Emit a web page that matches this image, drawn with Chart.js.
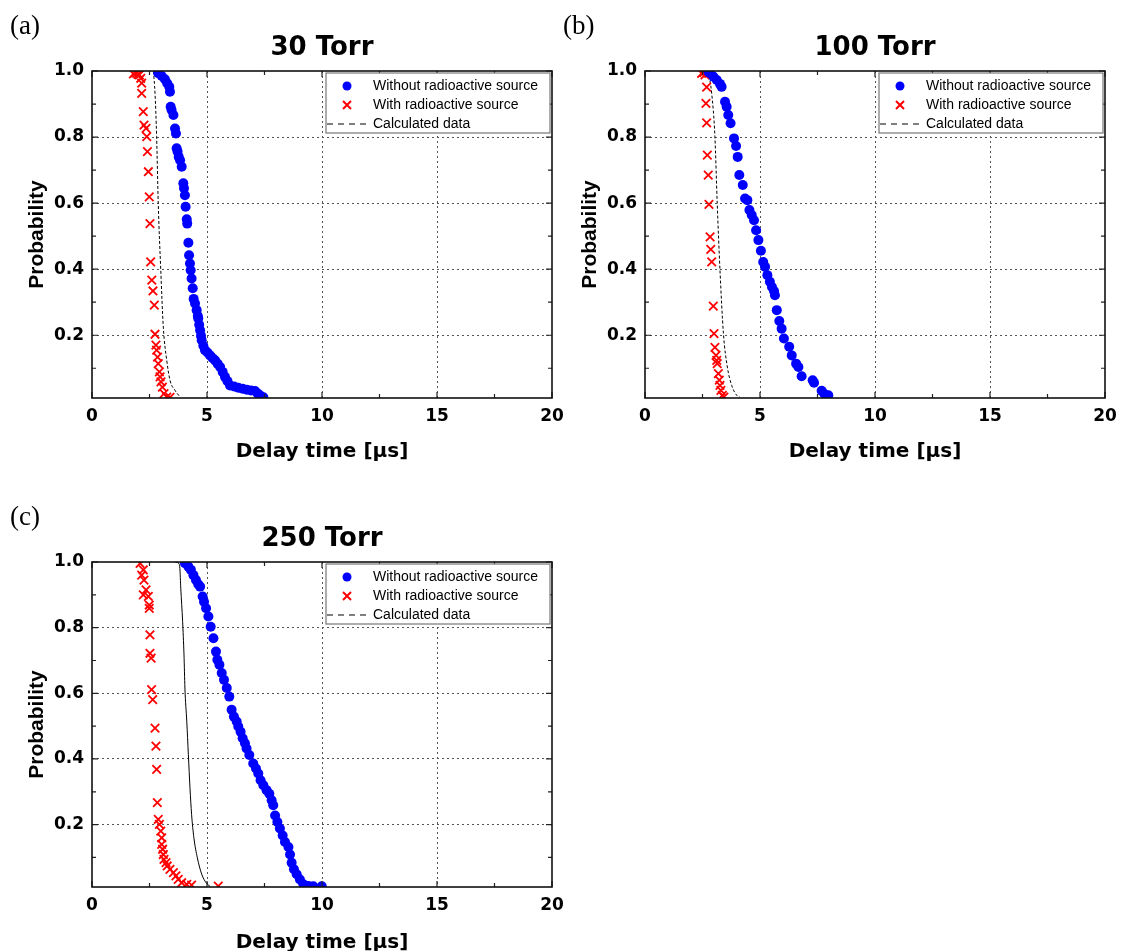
<!DOCTYPE html>
<html>
<head>
<meta charset="utf-8">
<script src="https://cdn.jsdelivr.net/npm/chart.js@4/dist/chart.umd.min.js"></script>
<style>
  html, body { margin: 0; padding: 0; background: #fff; overflow: hidden; }
  canvas { position: absolute; }
</style>
</head>
<body>
<canvas id="chartA" width="574" height="470" style="left:0;top:0"></canvas>
<canvas id="chartB" width="574" height="470" style="left:553px;top:0"></canvas>
<canvas id="chartC" width="574" height="470" style="left:0;top:491px"></canvas>
<script>
// axis ticks
const xTicks = [0, 5, 10, 15, 20];
const xMinor = [2.5, 7.5, 12.5, 17.5];
const yTicks = [0.2, 0.4, 0.6, 0.8, 1.0];
const yMinor = [0.1, 0.3, 0.5, 0.7, 0.9];
const seriesLabels = ["Without radioactive source", "With radioactive source", "Calculated data"];

// (a) 30 Torr  [delay time in us, probability]
const noSource30 = [[2.88,0.993],[3.03,0.985],[3.17,0.975],[3.27,0.963],[3.36,0.952],[3.39,0.937],[3.42,0.892],[3.46,0.882],[3.54,0.867],[3.61,0.826],[3.65,0.811],[3.68,0.766],[3.72,0.756],[3.77,0.740],[3.83,0.730],[3.90,0.710],[3.97,0.660],[4.00,0.645],[4.04,0.624],[4.07,0.589],[4.12,0.551],[4.14,0.538],[4.19,0.480],[4.22,0.442],[4.26,0.417],[4.29,0.397],[4.33,0.372],[4.38,0.342],[4.42,0.310],[4.48,0.296],[4.55,0.276],[4.60,0.258],[4.62,0.251],[4.66,0.232],[4.70,0.215],[4.74,0.198],[4.77,0.185],[4.84,0.168],[4.91,0.155],[5.02,0.148],[5.13,0.139],[5.24,0.131],[5.35,0.124],[5.46,0.114],[5.57,0.104],[5.68,0.089],[5.78,0.074],[5.89,0.061],[6.00,0.048],[6.18,0.045],[6.36,0.041],[6.55,0.038],[6.73,0.035],[6.91,0.033],[7.09,0.031],[7.20,0.024],[7.30,0.018],[7.45,0.012]];
const withSource30 = [[1.80,0.991],[1.87,0.995],[1.94,0.993],[2.00,0.990],[2.06,0.988],[2.12,0.978],[2.16,0.963],[2.16,0.932],[2.23,0.877],[2.26,0.836],[2.35,0.826],[2.38,0.801],[2.41,0.756],[2.45,0.695],[2.49,0.619],[2.52,0.538],[2.55,0.422],[2.60,0.367],[2.65,0.334],[2.71,0.291],[2.74,0.203],[2.78,0.170],[2.81,0.155],[2.85,0.134],[2.88,0.114],[2.93,0.089],[2.96,0.074],[3.00,0.059],[3.06,0.043],[3.13,0.023],[3.25,0.013],[3.39,0.012]];
const calc30 = [[2.67,1.0],[2.74,0.932],[2.81,0.801],[2.88,0.599],[2.99,0.397],[3.10,0.225],[3.25,0.124],[3.39,0.064],[3.61,0.033],[3.83,0.013]];

// (b) 100 Torr
const noSource100 = [[2.76,0.998],[2.83,0.993],[2.97,0.983],[3.12,0.973],[3.26,0.961],[3.33,0.952],[3.48,0.907],[3.55,0.892],[3.62,0.867],[3.72,0.842],[3.87,0.796],[3.96,0.773],[4.03,0.740],[4.10,0.685],[4.25,0.655],[4.35,0.614],[4.45,0.609],[4.54,0.579],[4.64,0.564],[4.74,0.548],[4.83,0.518],[4.93,0.488],[5.04,0.456],[5.14,0.422],[5.22,0.407],[5.32,0.382],[5.43,0.362],[5.52,0.346],[5.61,0.334],[5.65,0.321],[5.73,0.276],[5.84,0.243],[5.94,0.220],[6.04,0.190],[6.27,0.165],[6.38,0.139],[6.57,0.114],[6.67,0.104],[6.81,0.076],[7.29,0.064],[7.35,0.056],[7.68,0.032],[7.80,0.022],[7.97,0.018]];
const withSource100 = [[2.46,0.993],[2.55,0.995],[2.61,0.988],[2.68,0.951],[2.65,0.902],[2.68,0.843],[2.71,0.745],[2.75,0.685],[2.78,0.596],[2.83,0.498],[2.86,0.460],[2.90,0.422],[2.97,0.288],[3.00,0.205],[3.04,0.163],[3.09,0.139],[3.12,0.124],[3.14,0.114],[3.19,0.084],[3.23,0.064],[3.26,0.048],[3.30,0.033],[3.36,0.018],[3.43,0.013]];
const calc100 = [[2.75,1.0],[2.90,0.932],[3.04,0.801],[3.14,0.599],[3.26,0.397],[3.41,0.205],[3.58,0.104],[3.77,0.048],[3.99,0.018],[4.13,0.012]];

// (c) 250 Torr
const noSource250 = [[4.04,0.996],[4.19,0.986],[4.30,0.976],[4.41,0.960],[4.52,0.945],[4.62,0.932],[4.70,0.925],[4.81,0.895],[4.87,0.879],[4.96,0.859],[5.06,0.834],[5.16,0.803],[5.28,0.768],[5.39,0.727],[5.45,0.702],[5.54,0.687],[5.64,0.662],[5.74,0.641],[5.86,0.616],[5.97,0.590],[6.07,0.550],[6.17,0.529],[6.29,0.514],[6.36,0.499],[6.46,0.483],[6.55,0.463],[6.65,0.448],[6.72,0.432],[6.84,0.412],[7.01,0.386],[7.13,0.371],[7.23,0.356],[7.33,0.335],[7.45,0.320],[7.59,0.305],[7.71,0.294],[7.81,0.274],[7.88,0.259],[7.96,0.228],[8.06,0.208],[8.17,0.188],[8.29,0.167],[8.39,0.147],[8.54,0.132],[8.61,0.109],[8.68,0.084],[8.78,0.064],[8.90,0.049],[9.04,0.033],[9.19,0.018],[9.41,0.013],[9.62,0.012],[9.99,0.012]];
const withSource250 = [[2.09,0.996],[2.23,0.976],[2.16,0.960],[2.26,0.945],[2.35,0.915],[2.23,0.900],[2.45,0.895],[2.49,0.869],[2.49,0.859],[2.52,0.778],[2.52,0.722],[2.57,0.707],[2.59,0.611],[2.64,0.581],[2.74,0.494],[2.78,0.439],[2.81,0.368],[2.84,0.267],[2.88,0.216],[2.93,0.201],[2.99,0.180],[3.03,0.160],[3.03,0.140],[3.07,0.125],[3.10,0.109],[3.13,0.094],[3.22,0.084],[3.27,0.074],[3.39,0.064],[3.54,0.054],[3.65,0.044],[3.75,0.033],[3.90,0.023],[4.12,0.018],[4.33,0.016],[5.49,0.013]];
const calc250 = [[3.61,1.0],[3.78,0.995],[3.82,0.981],[3.86,0.920],[3.94,0.819],[4.00,0.717],[4.04,0.616],[4.12,0.515],[4.19,0.413],[4.26,0.312],[4.33,0.231],[4.43,0.160],[4.58,0.099],[4.77,0.049],[4.96,0.023],[5.13,0.012]];

const toXY = (arr) => arr.map((p) => ({ x: p[0], y: p[1] }));

// title, panel tag, inward tick marks, frame and the legend box
const decorPlugin = {
  id: "decor",
  afterDraw(chart, args, opts) {
    const ctx = chart.ctx;
    const a = chart.chartArea;
    const xs = chart.scales.x, ys = chart.scales.y;
    ctx.save();
    ctx.fillStyle = "#000";
    ctx.textBaseline = "middle";
    ctx.textAlign = "center";
    ctx.font = 'bold 26px "DejaVu Sans"';
    ctx.fillText(opts.title, (a.left + a.right) / 2, opts.titleY);
    ctx.textAlign = "left";
    ctx.font = '27px "Liberation Serif"';
    ctx.fillText(opts.tag, opts.tagX, opts.tagY);

    ctx.strokeStyle = "#222";
    ctx.lineWidth = 1.2;
    ctx.beginPath();
    const xMark = (v, len) => {
      const px = xs.getPixelForValue(v);
      ctx.moveTo(px, a.bottom); ctx.lineTo(px, a.bottom - len);
      ctx.moveTo(px, a.top); ctx.lineTo(px, a.top + len);
    };
    const yMark = (v, len) => {
      const py = ys.getPixelForValue(v);
      ctx.moveTo(a.left, py); ctx.lineTo(a.left + len, py);
      ctx.moveTo(a.right, py); ctx.lineTo(a.right - len, py);
    };
    xTicks.forEach((v) => xMark(v, 6));
    xMinor.forEach((v) => xMark(v, 4));
    yTicks.forEach((v) => yMark(v, 6));
    yMinor.forEach((v) => yMark(v, 4));
    ctx.stroke();

    ctx.lineWidth = 1.6;
    ctx.strokeStyle = "#111";
    ctx.strokeRect(a.left, a.top, a.right - a.left, a.bottom - a.top);

    // legend
    const bx = a.left + 234, by = a.top + 2, bw = 224, bh = 60;
    ctx.fillStyle = "#fff";
    ctx.fillRect(bx, by, bw, bh);
    ctx.strokeStyle = "#777";
    ctx.lineWidth = 1.2;
    ctx.strokeRect(bx, by, bw, bh);
    const ds = chart.data.datasets;
    const rows = [by + 13, by + 32, by + 51];
    ctx.font = '14px "Liberation Sans"';
    ctx.textAlign = "left";
    ds.forEach((d, i) => {
      const ry = rows[i];
      if (d.pointStyle === "circle") {
        ctx.fillStyle = d.backgroundColor;
        ctx.beginPath();
        ctx.arc(bx + 21, ry, 4.5, 0, Math.PI * 2);
        ctx.fill();
      } else if (d.pointStyle === "crossRot") {
        ctx.strokeStyle = d.borderColor;
        ctx.lineWidth = 2;
        ctx.beginPath();
        ctx.moveTo(bx + 17, ry - 4); ctx.lineTo(bx + 25, ry + 4);
        ctx.moveTo(bx + 25, ry - 4); ctx.lineTo(bx + 17, ry + 4);
        ctx.stroke();
      } else {
        ctx.strokeStyle = "#000";
        ctx.lineWidth = 1;
        ctx.setLineDash([6, 5]);
        ctx.beginPath();
        ctx.moveTo(bx + 1, ry); ctx.lineTo(bx + 42, ry);
        ctx.stroke();
        ctx.setLineDash([]);
      }
      ctx.fillStyle = "#000";
      ctx.fillText(d.label, bx + 47, ry);
    });
    ctx.restore();
  },
};

function makePanel(id, title, tag, noSrc, withSrc, calc, calcDash, xAxisHeight) {
  const ctx = document.getElementById(id).getContext("2d");
  return new Chart(ctx, {
    type: "scatter",
    data: {
      datasets: [
        {
          label: seriesLabels[0],
          data: toXY(noSrc),
          pointStyle: "circle",
          pointRadius: 5,
          backgroundColor: "#0000ff",
          borderColor: "#0000ff",
          borderWidth: 0,
        },
        {
          label: seriesLabels[1],
          data: toXY(withSrc),
          pointStyle: "crossRot",
          pointRadius: 6,
          backgroundColor: "#ff0000",
          borderColor: "#ff0000",
          borderWidth: 1.8,
        },
        {
          label: seriesLabels[2],
          data: toXY(calc),
          pointStyle: false,
          showLine: true,
          pointRadius: 0,
          borderColor: "#000",
          borderWidth: 1,
          borderDash: calcDash,
          cubicInterpolationMode: "monotone",
        },
      ],
    },
    options: {
      responsive: false,
      animation: false,
      events: [],
      layout: { padding: { top: 71, right: 22, left: 0, bottom: 0 } },
      plugins: {
        legend: { display: false },
        tooltip: { enabled: false },
        decor: { title: title, tag: tag, titleY: 48, tagX: 10, tagY: 27 },
      },
      scales: {
        x: {
          min: 0,
          max: 20,
          afterFit: (s) => { s.height = xAxisHeight; },
          afterBuildTicks: (s) => { s.ticks = xTicks.map((v) => ({ value: v })); },
          grid: {
            drawTicks: false,
            lineWidth: 1,
            color: (c) => (c.tick && c.tick.value > 0 && c.tick.value < 20 ? "#555" : "transparent"),
          },
          border: { display: false, dash: [2, 3] },
          ticks: {
            padding: 8,
            color: "#000",
            font: { family: "DejaVu Sans", weight: "bold", size: 17 },
            maxRotation: 0,
          },
          title: {
            display: true,
            text: "Delay time [μs]",
            color: "#000",
            font: { family: "DejaVu Sans", weight: "bold", size: 20 },
            padding: { top: 0, bottom: 6 },
          },
        },
        y: {
          min: 0.01,
          max: 1.0,
          afterFit: (s) => { s.width = 92; },
          afterBuildTicks: (s) => { s.ticks = yTicks.map((v) => ({ value: v })); },
          grid: {
            drawTicks: false,
            lineWidth: 1,
            color: (c) => (c.tick && c.tick.value < 0.99 ? "#555" : "transparent"),
          },
          border: { display: false, dash: [2, 3] },
          ticks: {
            padding: 8,
            color: "#000",
            font: { family: "DejaVu Sans", weight: "bold", size: 17 },
            callback: (v) => Number(v).toFixed(1),
          },
          title: {
            display: true,
            text: "Probability",
            color: "#000",
            font: { family: "Liberation Sans", weight: "bold", size: 21 },
            padding: { top: 25, bottom: 0 },
          },
        },
      },
    },
    plugins: [decorPlugin],
  });
}

makePanel("chartA", "30 Torr", "(a)", noSource30, withSource30, calc30, [3, 2], 72);
makePanel("chartB", "100 Torr", "(b)", noSource100, withSource100, calc100, [3, 2], 72);
makePanel("chartC", "250 Torr", "(c)", noSource250, withSource250, calc250, [], 74);
</script>
</body>
</html>
